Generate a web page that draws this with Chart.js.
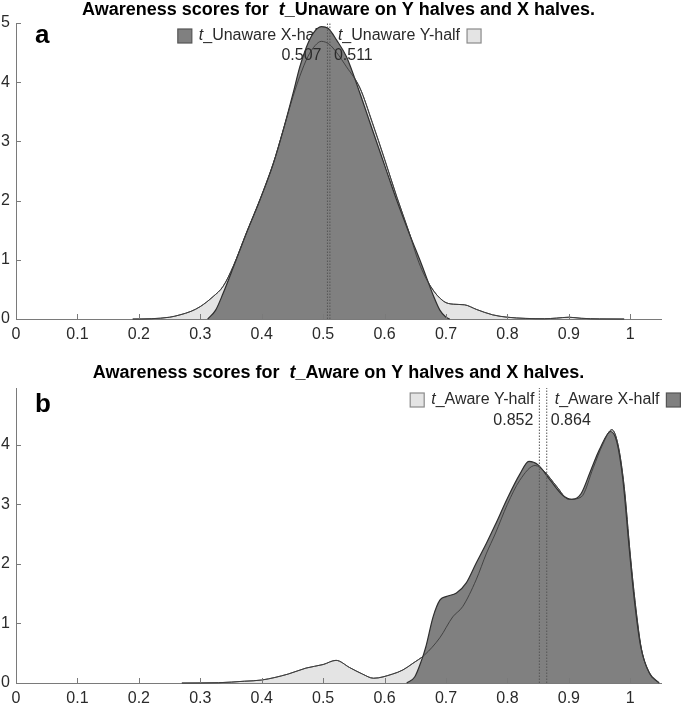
<!DOCTYPE html>
<html>
<head>
<meta charset="utf-8">
<script src="https://cdn.jsdelivr.net/npm/chart.js@4.4.1/dist/chart.umd.min.js"></script>
<style>
    body { margin: 0; background: #ffffff; }
    .panel { position: absolute; left: 0; }
    #panelA { top: 0; }
    #panelB { top: 350px; }
</style>
</head>
<body>
<div class="panel" id="panelA"><canvas id="chartA" width="685" height="350"></canvas></div>
<div class="panel" id="panelB"><canvas id="chartB" width="685" height="356"></canvas></div>
<script>
// panel a : t_Unaware densities
const unawareXhalfX = [0.312, 0.325, 0.337, 0.354, 0.375, 0.397, 0.419, 0.435, 0.451, 0.462, 0.473, 0.484, 0.497, 0.508, 0.522, 0.538, 0.560, 0.580, 0.600, 0.620, 0.640, 0.660, 0.680, 0.690, 0.700, 0.706];
const unawareXhalfY = [0, 0.15, 0.43, 0.88, 1.45, 2.01, 2.63, 3.19, 3.81, 4.26, 4.60, 4.83, 4.94, 4.91, 4.71, 4.43, 3.81, 3.20, 2.60, 2.00, 1.45, 0.93, 0.38, 0.15, 0.03, 0];
const unawareYhalfX = [0.190, 0.220, 0.250, 0.267, 0.285, 0.300, 0.321, 0.337, 0.354, 0.375, 0.397, 0.419, 0.435, 0.451, 0.462, 0.475, 0.487, 0.497, 0.510, 0.522, 0.538, 0.560, 0.580, 0.600, 0.620, 0.640, 0.656, 0.675, 0.696, 0.712, 0.730, 0.750, 0.776, 0.800, 0.830, 0.860, 0.880, 0.900, 0.920, 0.950, 0.990];
const unawareYhalfY = [0, 0.005, 0.03, 0.07, 0.13, 0.21, 0.38, 0.55, 0.90, 1.45, 2.01, 2.63, 3.19, 3.76, 4.10, 4.43, 4.62, 4.69, 4.64, 4.50, 4.26, 3.90, 3.32, 2.70, 2.06, 1.46, 0.95, 0.55, 0.30, 0.25, 0.24, 0.16, 0.07, 0.03, 0.01, 0.005, 0.015, 0.03, 0.012, 0.002, 0];
const unawareMeans = [0.507, 0.511];
const unawareLabels = ['t_Unaware X-half', 't_Unaware Y-half'];

// panel b : t_Aware densities
const awareXhalfX = [0.636, 0.649, 0.660, 0.667, 0.679, 0.690, 0.700, 0.717, 0.733, 0.749, 0.766, 0.780, 0.800, 0.820, 0.835, 0.850, 0.870, 0.890, 0.905, 0.920, 0.935, 0.950, 0.968, 0.978, 0.988, 0.998, 1.006, 1.017, 1.031, 1.047];
const awareXhalfY = [0, 0.10, 0.375, 0.60, 1.11, 1.39, 1.45, 1.51, 1.68, 2.01, 2.35, 2.65, 3.10, 3.50, 3.72, 3.66, 3.40, 3.15, 3.08, 3.18, 3.55, 3.92, 4.22, 4.05, 3.41, 2.29, 1.45, 0.61, 0.17, 0];
const awareYhalfX = [0.270, 0.330, 0.372, 0.400, 0.443, 0.472, 0.500, 0.521, 0.543, 0.564, 0.582, 0.613, 0.630, 0.646, 0.665, 0.690, 0.711, 0.727, 0.749, 0.766, 0.780, 0.800, 0.820, 0.845, 0.860, 0.880, 0.900, 0.920, 0.940, 0.955, 0.970, 0.980, 0.990, 1.000, 1.008, 1.018, 1.032, 1.047];
const awareYhalfY = [0, 0.005, 0.03, 0.05, 0.15, 0.25, 0.31, 0.38, 0.26, 0.15, 0.08, 0.15, 0.22, 0.33, 0.47, 0.76, 1.11, 1.28, 1.73, 2.18, 2.50, 3.00, 3.40, 3.65, 3.55, 3.30, 3.08, 3.12, 3.62, 4.00, 4.25, 4.00, 3.30, 2.15, 1.35, 0.58, 0.15, 0];
const awareMeans = [0.852, 0.864];
const awareLabels = ['t_Aware Y-half', 't_Aware X-half'];

// tick values
const xTickValues = [0, 0.1, 0.2, 0.3, 0.4, 0.5, 0.6, 0.7, 0.8, 0.9, 1];
const yTickValuesA = [0, 1, 2, 3, 4, 5];
const yTickValuesB = [0, 1, 2, 3, 4];

const FONT = "'Liberation Sans', Arial, Helvetica, sans-serif";
const DARK = '#808080';
const LIGHT = '#e4e4e4';
const AXIS = '#7a7a7a';
const TEXT = '#2a2a2a';

function toPoints(xs, ys) {
    return xs.map((x, i) => ({ x: x, y: ys[i] }));
}

function partFont(italic, bold, size) {
    return (italic ? 'italic ' : '') + (bold ? 'bold ' : '') + size + 'px ' + FONT;
}

// first letter ("t") is set in italics, like the original labels
function splitLabel(label) {
    return [{ text: label[0], italic: true }, { text: label.slice(1), italic: false }];
}

function measureParts(ctx, parts, size, bold) {
    let w = 0;
    parts.forEach(p => {
        ctx.font = partFont(p.italic, bold, size);
        w += ctx.measureText(p.text).width;
    });
    return w;
}

function drawParts(ctx, parts, x, y, size, bold) {
    parts.forEach(p => {
        ctx.font = partFont(p.italic, bold, size);
        ctx.fillText(p.text, x, y);
        x += ctx.measureText(p.text).width;
    });
}

function drawBox(ctx, x, y, color) {
    ctx.fillStyle = color;
    ctx.fillRect(x, y, 14, 14);
    ctx.strokeStyle = color === DARK ? '#555555' : '#8a8a8a';
    ctx.lineWidth = 1.2;
    ctx.strokeRect(x, y, 14, 14);
}

function makeAnnotations(spec) {
    return {
        id: 'annotations',
        beforeDatasetsDraw(chart) {
            const ctx = chart.ctx;
            const xScale = chart.scales.x;
            const y = chart.chartArea.top + spec.legendDy;
            const xLeft = xScale.getPixelForValue(spec.means[0]);
            const xRight = xScale.getPixelForValue(spec.means[1]);
            ctx.save();
            ctx.textBaseline = 'middle';
            ctx.textAlign = 'left';

            const partsL = splitLabel(spec.labels[0]);
            const startL = xLeft - 5 - measureParts(ctx, partsL, 16, false);
            ctx.fillStyle = TEXT;
            drawParts(ctx, partsL, startL, y, 16, false);
            drawBox(ctx, startL - 7 - 14, y - 7, spec.boxColors[0]);

            const partsR = splitLabel(spec.labels[1]);
            const startR = xRight + 8;
            const widthR = measureParts(ctx, partsR, 16, false);
            ctx.fillStyle = TEXT;
            drawParts(ctx, partsR, startR, y, 16, false);
            drawBox(ctx, startR + widthR + 7, y - 7, spec.boxColors[1]);
            ctx.restore();
        },
        afterDatasetsDraw(chart) {
            const ctx = chart.ctx;
            const area = chart.chartArea;
            const xScale = chart.scales.x;
            const yScale = chart.scales.y;
            ctx.save();

            // mean values next to the dotted lines
            ctx.fillStyle = TEXT;
            ctx.font = partFont(false, false, 16);
            ctx.textBaseline = 'middle';
            ctx.textAlign = 'right';
            ctx.fillText(spec.means[0].toFixed(3), xScale.getPixelForValue(spec.means[0]) - 6, area.top + spec.numberDy);
            ctx.textAlign = 'left';
            ctx.fillText(spec.means[1].toFixed(3), xScale.getPixelForValue(spec.means[1]) + 4, area.top + spec.numberDy);

            // tick marks pointing inwards
            ctx.strokeStyle = AXIS;
            ctx.lineWidth = 1;
            ctx.beginPath();
            xScale.ticks.forEach(t => {
                const px = Math.round(xScale.getPixelForValue(t.value)) + 0.5;
                ctx.moveTo(px, area.bottom);
                ctx.lineTo(px, area.bottom - 5);
            });
            yScale.ticks.forEach(t => {
                const py = Math.round(yScale.getPixelForValue(t.value)) + 0.5;
                ctx.moveTo(area.left, py);
                ctx.lineTo(area.left + 5, py);
            });
            ctx.stroke();

            // title with italic t
            ctx.fillStyle = '#000000';
            ctx.textAlign = 'left';
            const titleParts = [
                { text: spec.title[0], italic: false },
                { text: spec.title[1], italic: true },
                { text: spec.title[2], italic: false }
            ];
            const tw = measureParts(ctx, titleParts, 18, true);
            drawParts(ctx, titleParts, (area.left + area.right) / 2 - tw / 2, area.top - spec.titleDy, 18, true);

            // panel letter
            ctx.textBaseline = 'alphabetic';
            ctx.font = partFont(false, true, 26);
            ctx.fillText(spec.letter, 35, area.top + spec.letterDy);
            ctx.restore();
        }
    };
}

function makeScales(yMax, yTickValues, xHeight) {
    return {
        x: {
            type: 'linear',
            min: 0,
            max: 1.05,
            grid: { display: false, drawTicks: false },
            border: { display: true, color: AXIS, width: 1 },
            ticks: {
                padding: 6,
                color: TEXT,
                autoSkip: false,
                maxRotation: 0,
                font: { family: FONT, size: 16 },
                callback: v => String(+v.toFixed(1))
            },
            afterBuildTicks: axis => {
                axis.ticks = xTickValues.map(v => ({ value: v }));
            },
            afterFit: axis => { axis.height = xHeight; }
        },
        y: {
            type: 'linear',
            min: 0,
            max: yMax,
            grid: { display: false, drawTicks: false },
            border: { display: true, color: AXIS, width: 1 },
            ticks: {
                padding: 6,
                color: TEXT,
                font: { family: FONT, size: 16 },
                callback: v => String(Math.round(v))
            },
            afterBuildTicks: axis => {
                axis.ticks = yTickValues.map(v => ({ value: v }));
            },
            afterFit: axis => { axis.width = 16; }
        }
    };
}

function makeDatasets(lightPoints, darkPoints, means, yMax) {
    const common = {
        pointRadius: 0,
        cubicInterpolationMode: 'monotone',
        clip: 4
    };
    return [
        Object.assign({}, common, {
            label: 'Y-half fill',
            data: lightPoints,
            fill: 'origin',
            backgroundColor: LIGHT,
            borderColor: '#4a4a4a',
            borderWidth: 1,
            order: 3
        }),
        Object.assign({}, common, {
            label: 'X-half fill',
            data: darkPoints,
            fill: 'origin',
            backgroundColor: DARK,
            borderColor: '#2e2e2e',
            borderWidth: 1.2,
            order: 2
        }),
        Object.assign({}, common, {
            label: 'Y-half outline',
            data: lightPoints,
            fill: false,
            borderColor: '#3c3c3c',
            borderWidth: 0.9,
            order: 1
        }),
        {
            label: 'mean 1',
            data: toPoints([means[0], means[0]], [0, yMax]),
            borderColor: '#555555',
            borderWidth: 1,
            borderDash: [1.5, 1.5],
            pointRadius: 0,
            fill: false,
            order: 0
        },
        {
            label: 'mean 2',
            data: toPoints([means[1], means[1]], [0, yMax]),
            borderColor: '#555555',
            borderWidth: 1,
            borderDash: [1.5, 1.5],
            pointRadius: 0,
            fill: false,
            order: 0
        }
    ];
}

function drawPanel(canvasId, spec) {
    const config = {
        type: 'line',
        data: {
            datasets: makeDatasets(spec.lightPoints, spec.darkPoints, spec.means, spec.yMax)
        },
        options: {
            responsive: false,
            animation: false,
            events: [],
            layout: { padding: { left: 0, right: 24, top: spec.top, bottom: 0 } },
            plugins: {
                legend: { display: false },
                tooltip: { enabled: false },
                title: { display: false }
            },
            scales: makeScales(spec.yMax, spec.yTicks, spec.xHeight)
        },
        plugins: [makeAnnotations(spec)]
    };
    const ctx = document.getElementById(canvasId).getContext('2d');
    return new Chart(ctx, config);
}

drawPanel('chartA', {
    lightPoints: toPoints(unawareYhalfX, unawareYhalfY),
    darkPoints: toPoints(unawareXhalfX, unawareXhalfY),
    means: unawareMeans,
    labels: unawareLabels,
    boxColors: [DARK, LIGHT],
    title: ['Awareness scores for  ', 't', '_Unaware on Y halves and X halves.'],
    letter: 'a',
    yMax: 5,
    yTicks: yTickValuesA,
    top: 23,
    xHeight: 31,
    legendDy: 13,
    numberDy: 33,
    titleDy: 13,
    letterDy: 20
});

drawPanel('chartB', {
    lightPoints: toPoints(awareYhalfX, awareYhalfY),
    darkPoints: toPoints(awareXhalfX, awareXhalfY),
    means: awareMeans,
    labels: awareLabels,
    boxColors: [LIGHT, DARK],
    title: ['Awareness scores for  ', 't', '_Aware on Y halves and X halves.'],
    letter: 'b',
    yMax: 4.95,
    yTicks: yTickValuesB,
    top: 38,
    xHeight: 23,
    legendDy: 12,
    numberDy: 33,
    titleDy: 15,
    letterDy: 24
});
</script>
</body>
</html>
